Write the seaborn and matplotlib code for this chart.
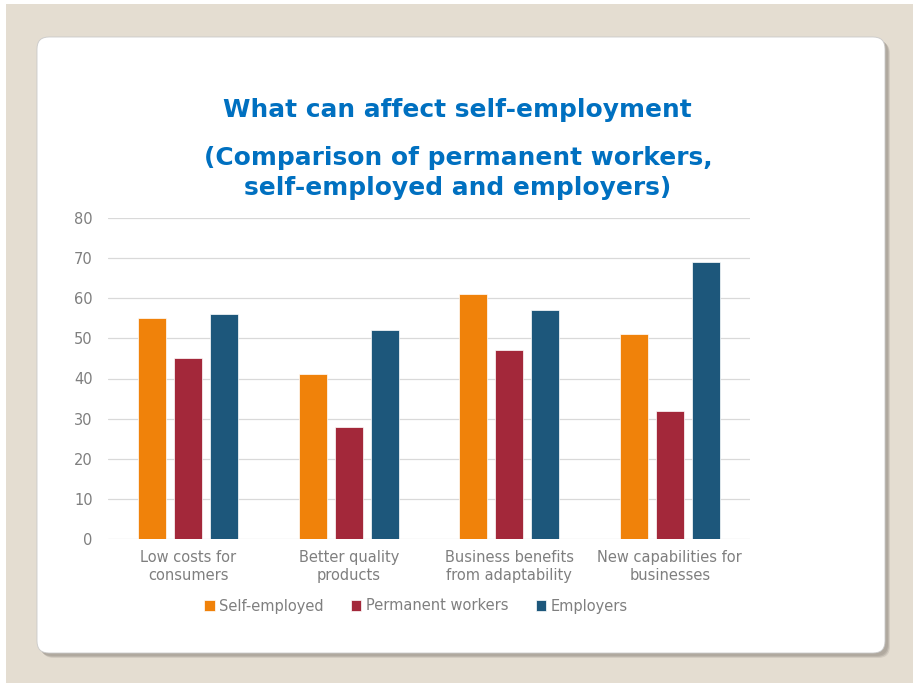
import matplotlib
matplotlib.use("Agg")
import matplotlib.pyplot as plt
import seaborn as sns
import pandas as pd
from matplotlib.patches import FancyBboxPatch, Rectangle

categories = ["Low costs for\nconsumers", "Better quality\nproducts",
              "Business benefits\nfrom adaptability", "New capabilities for\nbusinesses"]
series_names = ["Self-employed", "Permanent workers", "Employers"]
self_employed = [55, 41, 61, 51]
permanent_workers = [45, 28, 47, 32]
employers = [56, 52, 57, 69]
yticks = [0, 10, 20, 30, 40, 50, 60, 70, 80]
colors = ["#F0820A", "#A3283A", "#1D577B"]

rows = []
for name, vals in zip(series_names, [self_employed, permanent_workers, employers]):
    for c, v in zip(categories, vals):
        rows.append({"category": c, "series": name, "value": v})
df = pd.DataFrame(rows)

sns.set_style("white")
plt.rcParams['font.family'] = ['DejaVu Sans']

W, H = 913, 683
fig = plt.figure(figsize=(W / 100, H / 100), dpi=100)
fig.patch.set_facecolor("white")

# beige frame
fig.patches.append(Rectangle((6 / W, 0), 1, 1 - 4 / H, transform=fig.transFigure,
                             facecolor="#E4DDD1", edgecolor="none", zorder=0))
# shadow
for off, col in [(5, "#D2CBC0"), (4, "#BDB6AC"), (3, "#B0A99F")]:
    fig.patches.append(FancyBboxPatch(((37 + off) / W, (H - 653 - off) / H), (885 - 37) / W,
                                      (653 - 37) / H,
                                      boxstyle="round,pad=0,rounding_size=0.013",
                                      transform=fig.transFigure, facecolor=col,
                                      edgecolor="none", zorder=0.5, mutation_aspect=W / H))
# card
fig.patches.append(FancyBboxPatch((37 / W, (H - 653) / H), (885 - 37) / W, (653 - 37) / H,
                                  boxstyle="round,pad=0,rounding_size=0.013",
                                  transform=fig.transFigure, facecolor="white",
                                  edgecolor="#C9C9C9", linewidth=0.6, zorder=1,
                                  mutation_aspect=W / H))

ax = fig.add_axes([108 / W, 1 - 539 / H, (750 - 108) / W, (539 - 218) / H])
ax.set_zorder(2)
ax.patch.set_alpha(0)

sns.barplot(data=df, x="category", y="value", hue="series", palette=colors,
            width=0.67, gap=0.22, ax=ax, edgecolor="white", linewidth=0.5,
            saturation=1, legend=True)

ax.set_ylim(0, 80)
ax.set_xlim(-0.5, 3.5)
ax.set_yticks(yticks)
ax.yaxis.grid(True, color="#D9D9D9", linewidth=0.9)
ax.set_axisbelow(True)
for s in ax.spines.values():
    s.set_visible(False)
ax.tick_params(axis="both", length=0, colors="#7F7F7F", labelsize=10.5)
ax.tick_params(axis="y", pad=11)
ax.tick_params(axis="x", pad=8)
for lbl in ax.get_xticklabels():
    lbl.set_color("#7F7F7F")
ax.set_xlabel("")
ax.set_ylabel("")

handles, labels = ax.get_legend_handles_labels()
ax.legend(handles, labels, loc="center", bbox_to_anchor=(416 / W, 1 - 606 / H),
          bbox_transform=fig.transFigure, ncol=3, frameon=False,
          fontsize=10.5, labelcolor="#7F7F7F", handlelength=0.7, handleheight=0.7,
          handletextpad=0.3, columnspacing=1.9)

fig.text(457 / W, 1 - 110 / H, "What can affect self-employment", ha="center", va="center",
         fontsize=17.9, fontweight="bold", color="#0070C0", zorder=3)
fig.text(458 / W, 1 - 173 / H, "(Comparison of permanent workers,\nself-employed and employers)",
         ha="center", va="center", fontsize=17.9, fontweight="bold", color="#0070C0",
         linespacing=1.3, zorder=3)

fig.savefig("out.png", dpi=100, facecolor=fig.get_facecolor())
